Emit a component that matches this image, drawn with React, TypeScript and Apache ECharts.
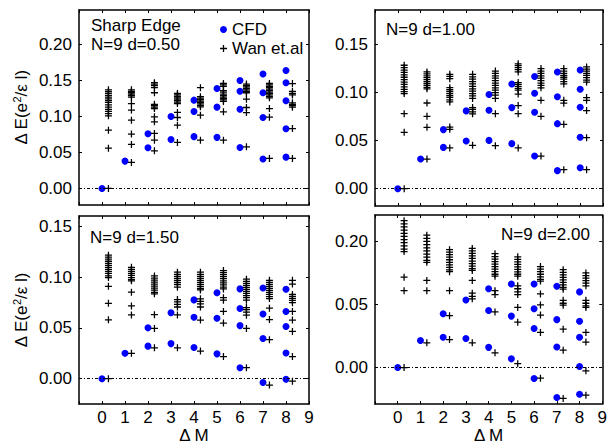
import React, { useEffect, useRef } from "react";
import * as echarts from "echarts";

// ---------- data ----------
const deltaM = [0, 1, 2, 3, 4, 5, 6, 7, 8];
const xTickLabels = ["0", "1", "2", "3", "4", "5", "6", "7", "8", "9"];

// CFD values per ΔM column
const cfdD050: number[][] = [
  [0],
  [0.038],
  [0.0759, 0.0565],
  [0.1, 0.068],
  [0.1227, 0.107, 0.072],
  [0.139, 0.113, 0.071],
  [0.15, 0.135, 0.11, 0.057],
  [0.159, 0.133, 0.0986, 0.041],
  [0.164, 0.147, 0.122, 0.083, 0.0435],
];
const wanD050: number[][] = [
  [0.137, 0.1345, 0.132, 0.1295, 0.127, 0.1245, 0.122, 0.1195, 0.116, 0.113, 0.11, 0.107, 0.104, 0.101, 0.081, 0.056, 0],
  [0.137, 0.135, 0.133, 0.131, 0.129, 0.127, 0.118, 0.109, 0.0949, 0.0755, 0.0611, 0.0361],
  [0.147, 0.145, 0.143, 0.14, 0.133, 0.117, 0.115, 0.113, 0.111, 0.0995, 0.0926, 0.0764, 0.0671, 0.0523],
  [0.132, 0.13, 0.128, 0.126, 0.124, 0.122, 0.12, 0.118, 0.1056, 0.0986, 0.088, 0.0639],
  [0.14, 0.1275, 0.1255, 0.1235, 0.1215, 0.1195, 0.1175, 0.1155, 0.1135, 0.1019, 0.0671],
  [0.146, 0.144, 0.142, 0.136, 0.134, 0.131, 0.129, 0.127, 0.125, 0.123, 0.121, 0.1065, 0.0671],
  [0.145, 0.143, 0.141, 0.139, 0.137, 0.135, 0.133, 0.124, 0.1125, 0.1055, 0.0579],
  [0.146, 0.144, 0.142, 0.14, 0.138, 0.136, 0.134, 0.132, 0.13, 0.128, 0.126, 0.1111, 0.0991, 0.0417],
  [0.1458, 0.135, 0.132, 0.13, 0.119, 0.117, 0.115, 0.113, 0.0833, 0.0417],
];

const cfdD100: number[][] = [
  [0],
  [0.0309],
  [0.0615, 0.043],
  [0.081, 0.0497],
  [0.098, 0.0816, 0.0503],
  [0.109, 0.0844, 0.0469],
  [0.1167, 0.0993, 0.0795, 0.034],
  [0.1215, 0.0958, 0.0677, 0.0188],
  [0.1236, 0.1035, 0.0847, 0.0535, 0.0219],
];
const wanD100: number[][] = [
  [0.1285, 0.126, 0.1235, 0.121, 0.1185, 0.116, 0.1135, 0.111, 0.1085, 0.106, 0.1035, 0.101, 0.099, 0.0781, 0.0587, 0],
  [0.1215, 0.1195, 0.1175, 0.1155, 0.1135, 0.1115, 0.1095, 0.1075, 0.1055, 0.104, 0.0892, 0.0753, 0.0639, 0.0309],
  [0.119, 0.117, 0.1145, 0.1052, 0.103, 0.101, 0.099, 0.097, 0.095, 0.0925, 0.0903, 0.0642, 0.0618, 0.0424],
  [0.119, 0.1165, 0.114, 0.1115, 0.109, 0.1065, 0.104, 0.1015, 0.099, 0.0965, 0.094, 0.0845, 0.0825, 0.08, 0.078, 0.0451],
  [0.1225, 0.12, 0.1175, 0.115, 0.1125, 0.11, 0.1075, 0.105, 0.1025, 0.1, 0.0975, 0.094, 0.0781, 0.0448],
  [0.13, 0.128, 0.126, 0.124, 0.1215, 0.1105, 0.1085, 0.1065, 0.1045, 0.1025, 0.0985, 0.0865, 0.0781, 0.0424],
  [0.125, 0.1225, 0.12, 0.1175, 0.115, 0.1125, 0.11, 0.1075, 0.105, 0.092, 0.0753, 0.034],
  [0.125, 0.1225, 0.12, 0.118, 0.116, 0.114, 0.1115, 0.109, 0.092, 0.089, 0.067, 0.0198],
  [0.1267, 0.1245, 0.1225, 0.12, 0.118, 0.1155, 0.113, 0.111, 0.0948, 0.092, 0.0813, 0.0531, 0.0198],
];

const cfdD150: number[][] = [
  [0],
  [0.025],
  [0.05, 0.032],
  [0.0649, 0.0345],
  [0.0775, 0.0604, 0.0307],
  [0.0845, 0.0595, 0.0244],
  [0.0883, 0.069, 0.0522, 0.0108],
  [0.0892, 0.0636, 0.0396, -0.0038],
  [0.088, 0.066, 0.0513, 0.0253, -0.0006],
];
const wanD150: number[][] = [
  [0.1215, 0.1195, 0.1175, 0.1155, 0.1135, 0.1115, 0.1095, 0.1075, 0.1055, 0.1035, 0.101, 0.0994, 0.0908, 0.0741, 0.0579, 0],
  [0.1095, 0.1075, 0.1055, 0.1035, 0.1015, 0.0995, 0.0975, 0.0962, 0.0851, 0.0715, 0.0627, 0.025],
  [0.101, 0.099, 0.097, 0.095, 0.093, 0.091, 0.089, 0.087, 0.085, 0.0835, 0.063, 0.0494, 0.0304],
  [0.1047, 0.1025, 0.1005, 0.0985, 0.0965, 0.0945, 0.0925, 0.09, 0.0778, 0.0755, 0.073, 0.0705, 0.0627, 0.0304],
  [0.1047, 0.1025, 0.1005, 0.0985, 0.0965, 0.0945, 0.0925, 0.0905, 0.0885, 0.0873, 0.0785, 0.076, 0.0735, 0.0705, 0.0576, 0.0272],
  [0.1063, 0.1043, 0.1023, 0.1003, 0.0983, 0.0963, 0.0943, 0.0923, 0.09, 0.0883, 0.0797, 0.0772, 0.0661, 0.0547, 0.0218],
  [0.0978, 0.0958, 0.0938, 0.0918, 0.0898, 0.0878, 0.0858, 0.0838, 0.0818, 0.0798, 0.0772, 0.07, 0.068, 0.0655, 0.0625, 0.0494, 0.0108],
  [0.0968, 0.0948, 0.0928, 0.0908, 0.0888, 0.0868, 0.0848, 0.0828, 0.0808, 0.0788, 0.0693, 0.0582, 0.0383, -0.0063],
  [0.0968, 0.093, 0.0829, 0.081, 0.079, 0.077, 0.0747, 0.0661, 0.0576, 0.0465, 0.0218, -0.0025],
];

const cfdD200: number[][] = [
  [0],
  [0.0214],
  [0.0426, 0.024],
  [0.0536, 0.023],
  [0.0625, 0.0452, 0.016],
  [0.0663, 0.0408, 0.0069],
  [0.0663, 0.0467, 0.0309, -0.0087],
  [0.0645, 0.038, 0.0163, -0.0237],
  [0.06, 0.0367, 0.024, 0.0008, -0.0212],
];
const wanD200: number[][] = [
  [0.1165, 0.114, 0.1115, 0.109, 0.1065, 0.104, 0.1015, 0.099, 0.0965, 0.094, 0.092, 0.0717, 0.061, 0],
  [0.105, 0.1025, 0.1, 0.0975, 0.095, 0.0925, 0.09, 0.0875, 0.085, 0.0835, 0.0691, 0.061, 0.0196],
  [0.0935, 0.0915, 0.0895, 0.0875, 0.0855, 0.0835, 0.0815, 0.0795, 0.0775, 0.076, 0.061, 0.0411, 0.0222],
  [0.0945, 0.0925, 0.0905, 0.0885, 0.0865, 0.0845, 0.0825, 0.0805, 0.0785, 0.077, 0.0691, 0.059, 0.0565, 0.0545, 0.0196],
  [0.0903, 0.088, 0.086, 0.084, 0.082, 0.08, 0.078, 0.076, 0.074, 0.0725, 0.061, 0.0579, 0.0441, 0.0117],
  [0.0878, 0.0858, 0.0838, 0.0818, 0.0798, 0.0778, 0.0758, 0.074, 0.0725, 0.0648, 0.0625, 0.06, 0.0579, 0.0477, 0.036, 0.0031],
  [0.0801, 0.078, 0.076, 0.074, 0.072, 0.07, 0.0686, 0.0584, 0.0497, 0.0416, 0.0278, -0.0084],
  [0.0776, 0.0755, 0.0735, 0.0715, 0.0695, 0.0675, 0.0655, 0.0635, 0.0622, 0.0533, 0.051, 0.0495, 0.0304, 0.0138, -0.0245],
  [0.075, 0.073, 0.071, 0.069, 0.067, 0.0648, 0.0533, 0.051, 0.049, 0.0477, 0.0278, 0.0202, -0.0026, -0.0219],
];

// y tick values and their labels
const yTicksD050 = [0, 0.05, 0.1, 0.15, 0.2];
const yLabelsD050 = ["0.00", "0.05", "0.10", "0.15", "0.20"];
const yTicksD100 = [0, 0.05, 0.1, 0.15];
const yLabelsD100 = ["0.00", "0.05", "0.10", "0.15"];
const yTicksD150 = [0, 0.05, 0.1, 0.15];
const yLabelsD150 = ["0.00", "0.05", "0.10", "0.15"];
const yTicksD200 = [0, 0.05, 0.1];
const yLabelsD200 = ["0.00", "0.05", "0.20"];

const panelTitles = ["N=9 d=0.50", "N=9 d=1.00", "N=9 d=1.50", "N=9 d=2.00"];

// ---------- styling / layout ----------
const FONT = "'Liberation Sans', Arial, Helvetica, sans-serif";
const PLUS = "path://M4.1,0H5.9V4.1H10V5.9H5.9V10H4.1V5.9H0V4.1H4.1Z";
const WAN_OFFSET = 0.28;

const panels = [
  { cfd: cfdD050, wan: wanD050, ticks: yTicksD050, labels: yLabelsD050, min: -0.023, max: 0.248,
    grid: { left: 79, top: 10, width: 230, height: 195 }, bottom: false, leftSide: true },
  { cfd: cfdD100, wan: wanD100, ticks: yTicksD100, labels: yLabelsD100, min: -0.018, max: 0.186,
    grid: { left: 375, top: 10, width: 228, height: 196 }, bottom: false, leftSide: false },
  { cfd: cfdD150, wan: wanD150, ticks: yTicksD150, labels: yLabelsD150, min: -0.025, max: 0.16,
    grid: { left: 79, top: 216, width: 230, height: 195 }, bottom: true, leftSide: true },
  { cfd: cfdD200, wan: wanD200, ticks: yTicksD200, labels: yLabelsD200, min: -0.029, max: 0.121,
    grid: { left: 375, top: 215, width: 228, height: 196 }, bottom: true, leftSide: false },
];

const titlePos = [
  { x: 91, y: 44 },
  { x: 386, y: 29 },
  { x: 90, y: 237 },
  { x: 501, y: 234.5 },
];

function toPoints(cols: number[][], offset: number): number[][] {
  const out: number[][] = [];
  cols.forEach((vals, i) => vals.forEach((v) => out.push([deltaM[i] + offset, v])));
  return out;
}

const axisLine = { show: true, onZero: false, lineStyle: { color: "#000", width: 1.5 } };
const labelStyle = { color: "#000", fontSize: 17, fontFamily: FONT };

function buildOption() {
  const grid: any[] = [];
  const xAxis: any[] = [];
  const yAxis: any[] = [];
  const series: any[] = [];

  panels.forEach((p, i) => {
    grid.push({ ...p.grid, containLabel: false });
    const xBase = {
      gridIndex: i, type: "value", min: -1, max: 9, interval: 1,
      axisLine, splitLine: { show: false },
      axisTick: { show: true, inside: true, length: 3, lineStyle: { color: "#000", width: 1 } },
    };
    xAxis.push({
      ...xBase, position: "bottom",
      axisLabel: {
        show: p.bottom, margin: 5, ...labelStyle,
        formatter: (v: number) => (v >= 0 && v < xTickLabels.length ? xTickLabels[v] : ""),
      },
      name: p.bottom ? "Δ M" : "",
      nameLocation: "middle", nameGap: 21,
      nameTextStyle: { ...labelStyle },
    });
    xAxis.push({ ...xBase, position: "top", axisLabel: { show: false } });

    const yBase = {
      gridIndex: i, type: "value", min: p.min, max: p.max,
      axisLine, splitLine: { show: false },
      axisTick: { show: true, inside: true, length: 3, customValues: p.ticks, lineStyle: { color: "#000", width: 1 } },
    };
    yAxis.push({
      ...yBase, position: "left",
      axisLabel: {
        show: true, margin: 7, ...labelStyle, customValues: p.ticks,
        formatter: (v: number) => {
          const k = p.ticks.findIndex((t) => Math.abs(t - v) < 1e-9);
          return k >= 0 ? p.labels[k] : "";
        },
      },
      name: p.leftSide ? "{a|Δ E(e}{s|2}{a|/ε l)}" : "",
      nameLocation: "middle", nameRotate: 90, nameGap: 48,
      nameTextStyle: {
        ...labelStyle,
        rich: {
          a: { fontSize: 17, fontFamily: FONT, color: "#000", lineHeight: 20 },
          s: { fontSize: 11, fontFamily: FONT, color: "#000", verticalAlign: "top", lineHeight: 20 },
        },
      },
    });
    yAxis.push({ ...yBase, position: "right", axisLabel: { show: false } });

    series.push({
      type: "line", xAxisIndex: 2 * i, yAxisIndex: 2 * i, data: [], z: 1, silent: true,
      markLine: {
        silent: true, symbol: ["none", "none"], label: { show: false },
        lineStyle: { color: "#000", width: 1, type: [3, 2, 1, 2] },
        data: [{ yAxis: 0 }],
      },
    });
    series.push({
      type: "scatter", name: "CFD", xAxisIndex: 2 * i, yAxisIndex: 2 * i,
      data: toPoints(p.cfd, 0), symbol: "circle", symbolSize: 7,
      itemStyle: { color: "#0000ff", opacity: 1 }, z: 3,
    });
    series.push({
      type: "scatter", name: "Wan et.al", xAxisIndex: 2 * i, yAxisIndex: 2 * i,
      data: toPoints(p.wan, WAN_OFFSET), symbol: PLUS, symbolSize: 7,
      itemStyle: { color: "#000", opacity: 1 }, z: 4,
    });
  });

  const graphic: any[] = [
    { type: "text", x: 91, y: 25.5, style: { text: "Sharp Edge", fontSize: 17, fontFamily: FONT, fill: "#000", verticalAlign: "middle" } },
    ...panelTitles.map((t, i) => ({
      type: "text", x: titlePos[i].x, y: titlePos[i].y,
      style: { text: t, fontSize: 17, fontFamily: FONT, fill: "#000", verticalAlign: "middle" },
    })),
  ];

  return {
    animation: false,
    backgroundColor: "#fff",
    grid, xAxis, yAxis, series, graphic,
    legend: {
      data: [
        { name: "CFD", icon: "circle" },
        { name: "Wan et.al", icon: PLUS },
      ],
      left: 215, top: 16, orient: "vertical",
      itemWidth: 7, itemHeight: 7, itemGap: 2,
      selectedMode: false,
      textStyle: { ...labelStyle },
    },
  };
}

export default function App() {
  const ref = useRef<HTMLDivElement>(null);
  useEffect(() => {
    if (!ref.current) return;
    const chart = echarts.init(ref.current, undefined, { renderer: "svg" });
    chart.setOption(buildOption() as any);
    return () => chart.dispose();
  }, []);
  return <div ref={ref} style={{ position: "fixed", left: 0, top: 0, width: 610, height: 445 }} />;
}
